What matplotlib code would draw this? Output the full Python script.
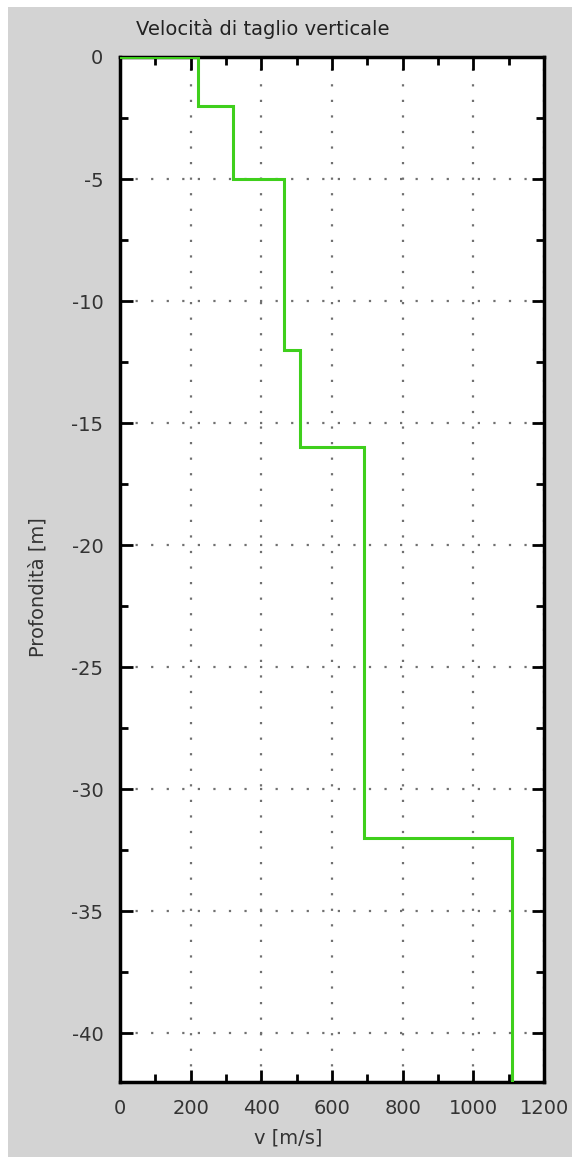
import numpy as np
import matplotlib
matplotlib.use("Agg")
import matplotlib.pyplot as plt
from matplotlib.patches import Rectangle
from matplotlib.ticker import MultipleLocator

plt.rcParams['axes.unicode_minus'] = False

# velocity profile (step function)
depth_top = [0, -2, -5, -12, -16, -32]
depth_bot = [-2, -5, -12, -16, -32, -42]
vs = [220, 320, 465, 510, 690, 1110]

xticks = [0, 200, 400, 600, 800, 1000, 1200]
yticks = [0, -5, -10, -15, -20, -25, -30, -35, -40]

W, H = 572, 1157
fig = plt.figure(figsize=(W / 100, H / 100), dpi=100, facecolor='white')
fig.patches.append(Rectangle((8 / W, 0), 1 - 8 / W, 1 - 7 / H, transform=fig.transFigure,
                             facecolor='#d3d3d3', edgecolor='none', zorder=-10))

ax = fig.add_axes([120 / W, 75 / H, 424 / W, 1025 / H])
ax.set_facecolor('white')

# build step line: start at surface x=0
xs = [0]
ys = [0]
for v, t, b in zip(vs, depth_top, depth_bot):
    xs += [v, v]
    ys += [t, b]
ax.plot(xs, ys, color='#3fcf1c', linewidth=2.2, solid_joinstyle='miter', zorder=3)

ax.set_xlim(0, 1200)
ax.set_ylim(-42, 0)
ax.set_xticks(xticks)
ax.set_yticks(yticks)
ax.xaxis.set_minor_locator(MultipleLocator(100))
ax.yaxis.set_minor_locator(MultipleLocator(2.5))

ax.grid(True, which='major', color='#707070', linestyle=(0, (1, 6)), linewidth=1.6)

for s in ax.spines.values():
    s.set_linewidth(2.5)
    s.set_color('black')

ax.tick_params(which='both', direction='in', top=True, right=True, width=2, colors='black',
               labelsize=14, labelcolor='#333333')
ax.tick_params(which='major', length=9)
ax.tick_params(which='minor', length=6)
ax.tick_params(axis='x', pad=12)
ax.tick_params(axis='y', pad=12)

ax.set_title('Velocità di taglio verticale', fontsize=14, color='#222222', pad=16, x=0.337)
ax.set_xlabel('v [m/s]', fontsize=14, color='#333333', labelpad=8)
ax.xaxis.label.set_x(0.396)
ax.set_ylabel('Profondità [m]', fontsize=14, color='#333333', labelpad=17)
ax.yaxis.label.set_y(0.483)

fig.savefig('out.png', dpi=100, facecolor=fig.get_facecolor())
